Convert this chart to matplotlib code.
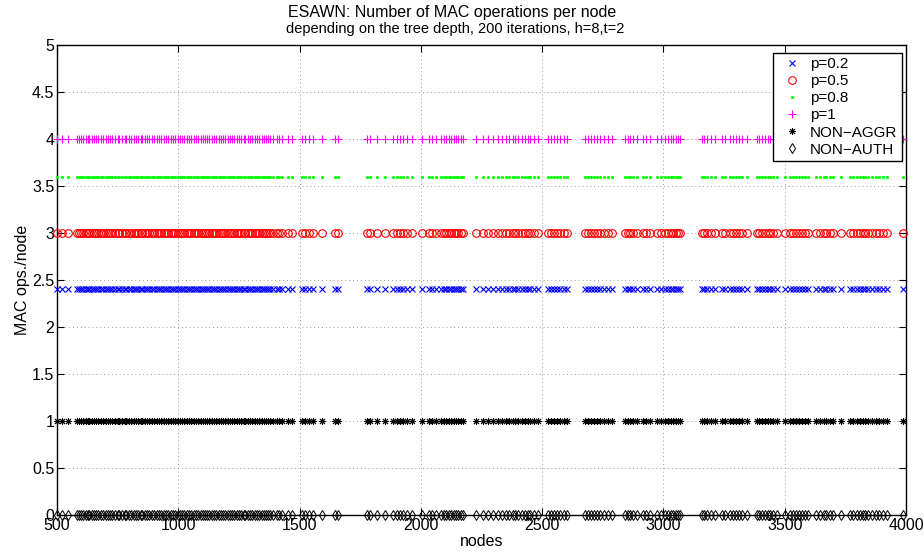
import matplotlib
matplotlib.use("Agg")
import matplotlib.pyplot as plt

plt.rcParams['font.family'] = ['Liberation Sans', 'DejaVu Sans']

# node counts of the simulated networks (shared by every scheme)
nodes = [
    500, 520, 545,
    581, 590, 598, 607, 618, 626, 633, 645, 652, 661, 670, 683, 690, 700,
    712, 719, 728, 741, 750, 757, 768, 779, 786, 797, 805, 816, 824, 833,
    845, 852, 862, 873, 880, 891, 900, 912, 921, 930, 940, 951, 958, 969,
    978, 988, 997, 1006, 1015, 1024, 1036, 1043, 1052, 1064, 1071, 1080,
    1092, 1100, 1110, 1119, 1127, 1138, 1147, 1155, 1166, 1175, 1183, 1194,
    1203, 1212, 1222, 1230, 1241, 1250, 1258, 1269, 1277, 1288, 1296, 1305,
    1316, 1324, 1333, 1345, 1352, 1362, 1371, 1380, 1392, 1405, 1416, 1427,
    1451, 1470, 1508, 1523, 1540, 1555, 1591, 1645, 1660,
    1777, 1790, 1818, 1852, 1886, 1900, 1914, 1927, 1941, 1962,
    2006, 2033, 2047, 2061, 2083, 2095, 2105, 2115, 2125, 2135, 2145, 2155,
    2165, 2175, 2226, 2257, 2278, 2298, 2319, 2333, 2353, 2365, 2378, 2390,
    2402, 2415, 2428, 2440, 2452, 2465, 2484,
    2523, 2535, 2548, 2560, 2575, 2590, 2601,
    2676, 2690, 2703, 2715, 2728, 2740, 2755, 2770, 2786,
    2841, 2852, 2862, 2875, 2890, 2917, 2930, 2944,
    2972, 2988, 3005, 3020, 3030, 3040, 3050, 3060, 3068,
    3157, 3168, 3180, 3195, 3212, 3240, 3253,
    3274, 3285, 3298, 3312, 3325, 3343,
    3384, 3395, 3405, 3418, 3430, 3440, 3452, 3467, 3500,
    3521, 3533, 3545, 3558, 3572, 3585, 3597,
    3631, 3645, 3660, 3672, 3686, 3700, 3734,
    3769, 3783, 3800, 3812, 3822, 3833, 3845, 3860, 3875, 3890, 3905, 3920,
    3988,
]

labels = ['p=0.2', 'p=0.5', 'p=0.8', 'p=1', 'NON\u2212AGGR', 'NON\u2212AUTH']
mac_ops = [2.4, 3.0, 3.6, 4.0, 1.0, 0.0]

styles = [
    dict(marker='x', color=(0, 0, 1), markersize=4, markeredgewidth=0.8),
    dict(marker='o', color=(1, 0, 0), markersize=5.5, markerfacecolor='none', markeredgewidth=0.8),
    dict(marker='.', color=(0, 1, 0), markersize=2.5),
    dict(marker='+', color=(1, 0, 1), markersize=6, markeredgewidth=0.8),
    dict(marker=(8, 2, 0), color='k', markersize=5, markeredgewidth=0.7),
    dict(marker='d', color='k', markersize=5.5, markerfacecolor='none', markeredgewidth=0.7),
]

fig = plt.figure(figsize=(9.24, 5.52), dpi=100)
ax = fig.add_axes([57 / 924, 37 / 552, 849 / 924, 470 / 552])

for val, lab, st in zip(mac_ops, labels, styles):
    ax.plot(nodes, [val] * len(nodes), linestyle='none', label=lab,
            clip_on=False, zorder=3, **st)

ax.set_xlim(500, 4000)
ax.set_ylim(0, 5)
ax.set_xticks(range(500, 4001, 500))
ax.set_yticks([i * 0.5 for i in range(11)])
ax.set_yticklabels(['0', '0.5', '1', '1.5', '2', '2.5', '3', '3.5', '4', '4.5', '5'])
ax.grid(True, linestyle=(0, (1, 3)), color='#999999', linewidth=0.7)
ax.tick_params(direction='in', top=True, right=True, length=5, width=0.8,
               labelsize=11.5, pad=2)
for sp in ax.spines.values():
    sp.set_linewidth(1.0)

ax.set_xlabel('nodes', fontsize=11.5, labelpad=1)
ax.set_ylabel('MAC ops./node', fontsize=11.5, labelpad=1)

fig.text(452 / 924, 1 - 12 / 552, 'ESAWN: Number of MAC operations per node',
         ha='center', va='center', fontsize=11.5)
fig.text(455 / 924, 1 - 29 / 552, 'depending on the tree depth, 200 iterations, h=8,t=2',
         ha='center', va='center', fontsize=10.5)

leg = ax.legend(loc='upper right', bbox_to_anchor=(0.9953, 0.9836),
                fontsize=11, fancybox=False, framealpha=1, edgecolor='k',
                borderaxespad=0, handlelength=2.0, handletextpad=0.15,
                labelspacing=0.2, borderpad=0.3)
leg.get_frame().set_linewidth(1.0)
leg.set_zorder(5)

fig.savefig('out.png', dpi=100)
